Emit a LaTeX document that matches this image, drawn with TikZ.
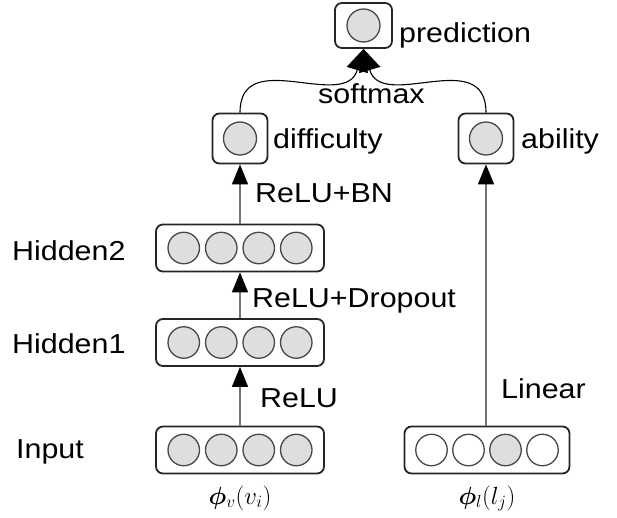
\documentclass[tikz,border=0pt]{standalone}
\usepackage{fontspec}
\setmainfont{Liberation Sans}[FakeStretch=1.11]
\usepackage{amsmath}
\usepackage{bm}
\usetikzlibrary{arrows.meta}

\begin{document}
\begin{tikzpicture}[x=1pt,y=-1pt,
  layer/.style={draw=black!85, line width=1.8pt, rounded corners=7pt, fill=white,
    minimum width=168pt, minimum height=47pt, inner sep=0pt},
  unitbox/.style={draw=black!85, line width=1.8pt, rounded corners=7pt, fill=white,
    minimum width=55pt, minimum height=50pt, inner sep=0pt},
  neuron/.style={circle, draw=black!72, line width=1.3pt, fill=black!13,
    minimum size=31.5pt, inner sep=0pt},
  blank/.style={neuron, fill=white},
  lbl/.style={font=\fontsize{27.4}{32}\selectfont, inner sep=0pt, anchor=base west},
  mathlbl/.style={font=\fontsize{25}{29}\selectfont, inner sep=0pt, anchor=base},
  feed/.style={draw=black!55, line width=1.5pt,
    -{Triangle[width=16pt,length=20pt,color=black]}},
  merge/.style={draw=black, line width=1.1pt, -{Triangle[width=22pt,length=22pt]}},
]
\useasboundingbox (0,0) rectangle (617,517);

% left column: input, two hidden layers, difficulty
\node[layer] (inL) at (240,450) {};
\foreach \d [count=\i] in {-56.25,-18.75,18.75,56.25}
  \node[neuron] (inL\i) at (240+\d,450) {};
\node[layer] (hA) at (240,342.5) {};
\foreach \d [count=\i] in {-56.25,-18.75,18.75,56.25}
  \node[neuron] (hA\i) at (240+\d,342.5) {};
\node[layer] (hB) at (240,248) {};
\foreach \d [count=\i] in {-56.25,-18.75,18.75,56.25}
  \node[neuron] (hB\i) at (240+\d,248) {};
\node[unitbox] (dif) at (240,138.5) {};
\node[neuron, minimum size=33pt] (difc) at (240,138.5) {};

% right column: one-hot input and ability
\node[layer, minimum width=165pt] (inR) at (487,450) {};
\foreach \d/\s [count=\i] in {-55.5/blank,-18.5/blank,18.5/neuron,55.5/blank}
  \node[\s] (inR\i) at (487+\d,450) {};
\node[unitbox] (abl) at (486,138.5) {};
\node[neuron, minimum size=33pt] (ablc) at (486,138.5) {};

% output
\node[unitbox, minimum width=57pt, minimum height=45pt] (pred) at (363.5,25.5) {};
\node[neuron, minimum size=33pt] (predc) at (363.5,25.5) {};

% side texts
\node[lbl] (tpred) at (399,42) {prediction};
\node[lbl] (tdif) at (273,148) {difficulty};
\node[lbl] (tabl) at (521,148) {ability};
\node[lbl] (thB) at (12,260) {Hidden2};
\node[lbl] (thA) at (12,353) {Hidden1};
\node[lbl] (tin) at (16,458) {Input};
\node[mathlbl] (phiv) at (240,504) {$\bm{\phi}_v(v_i)$};
\node[mathlbl] (phil) at (487,504) {$\bm{\phi}_l(l_j)$};

% connectors
\draw[feed] (inL.north) -- (hA.south);
\draw[feed] (hA.north) -- (hB.south);
\draw[feed] (hB.north) -- (dif.south);
\draw[feed] (inR.north -| abl.south) -- (abl.south);
\node[lbl] (trelu) at (260,407) {ReLU};
\node[lbl] (tdrop) at (252,307) {ReLU+Dropout};
\node[lbl] (tbn) at (255,202) {ReLU+BN};
\node[lbl] (tlin) at (501,398) {Linear};

\draw[merge] (dif.north) .. controls (240,45) and (345,112) .. (pred.south);
\draw[merge] (abl.north) .. controls (486,45) and (382,112) .. (pred.south);
\node[lbl] (tsoft) at (318,103) {softmax};
\end{tikzpicture}
\end{document}
